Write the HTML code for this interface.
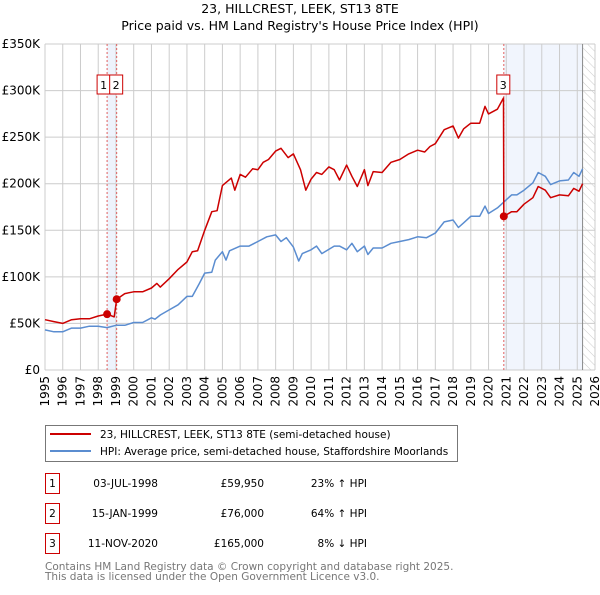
<!DOCTYPE html>
<html><head><meta charset="utf-8"><style>
body{margin:0;background:#fff;font-family:"Liberation Sans","DejaVu Sans",sans-serif;}
svg text{font-family:"DejaVu Sans","Liberation Sans",sans-serif;}
</style></head><body>
<svg width="600" height="590" viewBox="0 0 600 590" xmlns="http://www.w3.org/2000/svg">
<defs><pattern id="hatch" width="6" height="6" patternUnits="userSpaceOnUse" patternTransform="rotate(-45)"><line x1="0" y1="0" x2="0" y2="6" stroke="#ccc" stroke-width="1"/></pattern></defs>
<text x="300" y="13" text-anchor="middle" font-size="12.5">23, HILLCREST, LEEK, ST13 8TE</text>
<text x="300" y="30" text-anchor="middle" font-size="12.5">Price paid vs. HM Land Registry's House Price Index (HPI)</text>
<g id="plot"></g>
<g id="legend">
<rect x="45.5" y="425.5" width="412" height="36" fill="#fff" stroke="#777"/>
<line x1="50" y1="434" x2="91" y2="434" stroke="#cc0000" stroke-width="2"/>
<text x="100" y="438" font-size="10.5">23, HILLCREST, LEEK, ST13 8TE (semi-detached house)</text>
<line x1="50" y1="451" x2="91" y2="451" stroke="#5b8dd0" stroke-width="2"/>
<text x="100" y="455" font-size="10.5">HPI: Average price, semi-detached house, Staffordshire Moorlands</text>
</g>
<g id="table" font-size="10.5"></g>
<text x="45" y="570" font-size="10.5" fill="#777">Contains HM Land Registry data © Crown copyright and database right 2025.</text>
<text x="45" y="580" font-size="10.5" fill="#777">This data is licensed under the Open Government Licence v3.0.</text>
</svg>
<script>
const yTicks=[0,50,100,150,200,250,300,350];
const yTickLabels=["£0","£50K","£100K","£150K","£200K","£250K","£300K","£350K"];
const xYears=[1995,1996,1997,1998,1999,2000,2001,2002,2003,2004,2005,2006,2007,2008,2009,2010,2011,2012,2013,2014,2015,2016,2017,2018,2019,2020,2021,2022,2023,2024,2025,2026];
const hpiT=[1995,1995.5,1996,1996.5,1997,1997.5,1998,1998.5,1999,1999.5,2000,2000.5,2001,2001.2,2001.5,2002,2002.5,2003,2003.3,2003.7,2004,2004.4,2004.6,2005,2005.2,2005.4,2006,2006.5,2007,2007.5,2008,2008.3,2008.6,2009,2009.3,2009.5,2010,2010.3,2010.6,2011.3,2011.6,2012,2012.3,2012.6,2013,2013.2,2013.5,2014,2014.5,2015,2015.5,2016,2016.5,2017,2017.5,2018,2018.3,2018.6,2019,2019.5,2019.8,2020,2020.5,2020.9,2021.3,2021.6,2022,2022.5,2022.8,2023.2,2023.5,2024,2024.5,2024.8,2025.1,2025.3];
const hpiV=[43,41,41,45,45,47,47,45.5,48,48,51,51,56,54.5,59,64.5,70,79,79,93,104,105,118,127,118,128,133,133,138,143,145,138,142,132,117,125,129,133,125,133,133,129,136,127,133,124,131,131,136,138,140,143,142,147,159,161,153,158,165,165,176,168,174,181,188,188,193,201,212,208,199,203,204,212,208,216];
const priceT=[1995,1995.5,1996,1996.5,1997,1997.5,1998,1998.5,1998.9,1999.04,1999.5,2000,2000.5,2001,2001.3,2001.5,2002,2002.5,2003,2003.3,2003.6,2004,2004.4,2004.7,2005,2005.5,2005.7,2006,2006.3,2006.7,2007,2007.3,2007.6,2008,2008.3,2008.7,2009,2009.4,2009.7,2010,2010.3,2010.6,2011,2011.3,2011.6,2012,2012.3,2012.6,2013,2013.2,2013.5,2014,2014.5,2015,2015.5,2016,2016.4,2016.7,2017,2017.5,2018,2018.3,2018.6,2019,2019.5,2019.8,2020,2020.5,2020.84,2020.86,2021.3,2021.6,2022,2022.5,2022.8,2023.2,2023.5,2024,2024.5,2024.8,2025.1,2025.3];
const priceV=[54,52,50,54,55,55,58,60,57,76,82,84,84,88,93,89,98,108,116,127,128,150,170,171,198,206,193,210,207,216,215,223,226,235,238,228,232,215,193,205,212,210,218,215,204,220,208,197,215,198,213,212,223,226,232,236,234,240,243,258,262,249,259,265,265,283,275,280,292,165,170,170,178,185,197,193,185,188,187,195,192,200];
const saleT=[1998.5,1999.04,2020.86];
const saleV=[59.95,76,165];
const saleLabels=["1","2","3"];
const saleDates=["03-JUL-1998","15-JAN-1999","11-NOV-2020"];
const salePrices=["£59,950","£76,000","£165,000"];
const saleHpi=["23% ↑ HPI","64% ↑ HPI","8% ↓ HPI"];
const NS="http://www.w3.org/2000/svg";
const L=45,R=595,T=44,B=370;
const xs=t=>L+(t-1995)*(R-L)/31;
const ys=v=>B-v*(B-T)/350;
const plot=document.getElementById('plot');
function mk(tag,attrs,parent){const e=document.createElementNS(NS,tag);for(const k in attrs)e.setAttribute(k,attrs[k]);(parent||plot).appendChild(e);return e;}
let r=mk('rect',{x:xs(1998.5),y:T,width:xs(1999.04)-xs(1998.5),height:B-T,fill:'#eef3fc'});


r=mk('rect',{x:xs(2020.86),y:T,width:xs(2025.3)-xs(2020.86),height:B-T,fill:'#f1f5fd'});


r=mk('rect',{x:xs(2025.3),y:T,width:R-xs(2025.3),height:B-T,fill:'url(#hatch)'});


yTicks.forEach((v,i)=>{
 const g=mk('line',{x1:L,x2:R,y1:ys(v),y2:ys(v),stroke:'#ccc','stroke-width':1});
 
 
 const t=mk('text',{x:40,y:ys(v)+4,'text-anchor':'end','font-size':12});
 
 
 t.textContent=yTickLabels[i];
});
xYears.forEach(yr=>{
 const g=mk('line',{x1:xs(yr),x2:xs(yr),y1:T,y2:B,stroke:'#ccc','stroke-width':1});
 
 
 const t=mk('text',{x:0,y:0,'text-anchor':'end','font-size':12,transform:`translate(${xs(yr)+4},376) rotate(-90)`});
 
 
 t.textContent=yr;
});
let vl=mk('line',{x1:xs(2025.3),x2:xs(2025.3),y1:T,y2:B,stroke:'#888','stroke-width':1});


saleT.forEach((t,i)=>{
 const l=mk('line',{x1:xs(t),x2:xs(t),y1:T,y2:B,stroke:'#e06060','stroke-width':1,'stroke-dasharray':'2,2'});
 
 
});
function path(T_,V_,col,name){
 const d=T_.map((t,i)=>(i?'L':'M')+xs(t).toFixed(1)+','+ys(V_[i]).toFixed(1)).join('');
 const p=mk('path',{d:d,fill:'none',stroke:col,'stroke-width':1.5,'stroke-linejoin':'round'});
 
 
}
path(hpiT,hpiV,'#5b8dd0','hpi-line');
path(priceT,priceV,'#cc0000','price-line');
saleT.forEach((t,i)=>{
 const c=mk('circle',{cx:xs(t),cy:ys(saleV[i]),r:4,fill:'#cc0000'});
 
 
});
const boxX=[xs(saleT[0])-10,xs(saleT[1])-7,xs(saleT[2])-7];
saleLabels.forEach((s,i)=>{
 const b=mk('rect',{x:boxX[i],y:75,width:13,height:19,fill:'#fff',stroke:'#cc0000'});
 
 
 const t=mk('text',{x:boxX[i]+6.5,y:89,'text-anchor':'middle','font-size':11});
 
 
 t.textContent=s;
});
const tbl=document.getElementById('table');
saleLabels.forEach((s,i)=>{
 const y=483+30*i;
 const b=mk('rect',{x:45.5,y:y-9.5,width:14,height:20,fill:'#fff',stroke:'#cc0000'},tbl);
 
 
 const cols=[[52.5,'middle',s],[158,'end',saleDates[i]],[264,'end',salePrices[i]],[367,'end',saleHpi[i]]];
 cols.forEach(c=>{
  const t=mk('text',{x:c[0],y:y+4,'text-anchor':c[1]},tbl);
  
  
  t.textContent=c[2];
 });
});
</script>
</body></html>
